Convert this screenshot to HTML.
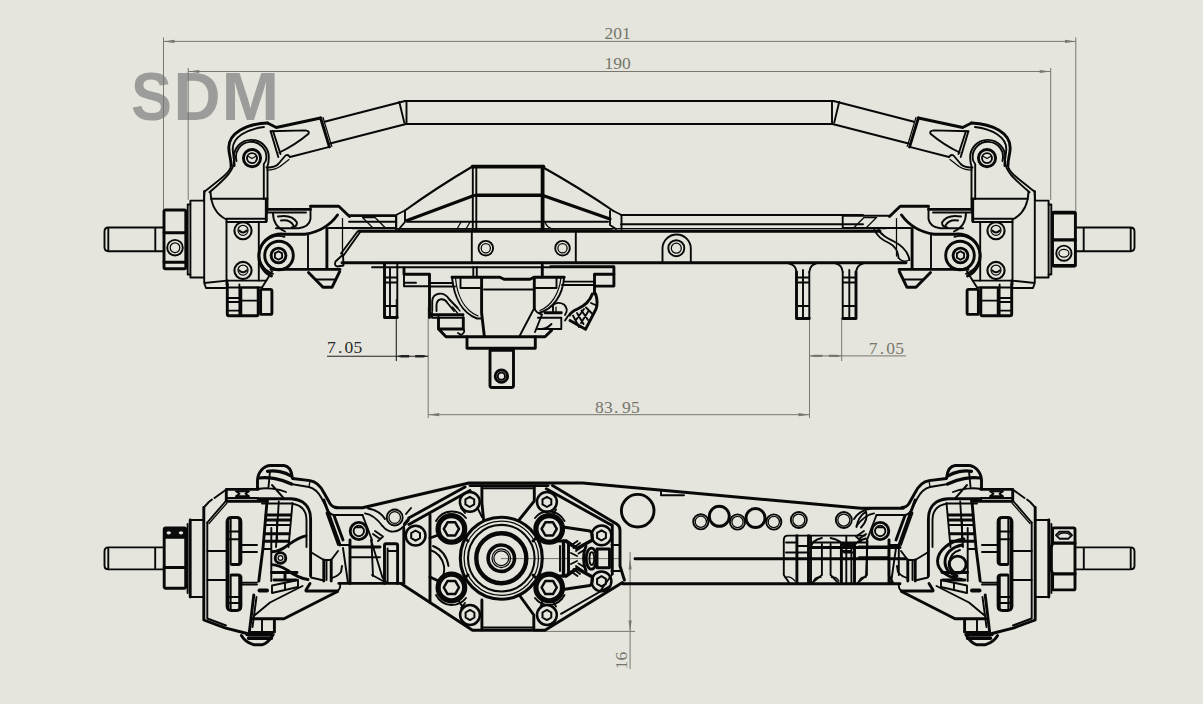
<!DOCTYPE html>
<html lang="en">
<head>
<meta charset="utf-8">
<title>SDM axle drawing</title>
<style>
html,body{margin:0;padding:0;background:#e5e5dd;overflow:hidden}
body{width:1203px;height:704px;position:relative;font-family:"Liberation Sans",sans-serif}
svg{position:absolute;left:0;top:0;display:block}
.k{stroke:#080808;stroke-width:1.9;fill:none;stroke-linejoin:round;stroke-linecap:round}
.k .t,.t{stroke-width:1.25}
.k .h,.h{stroke-width:2.9}
.k .f{fill:#e5e5dd}
.d{stroke:#77776f;stroke-width:1;fill:none}
.da{fill:#77776f;stroke:none}
.dk{stroke:#222;stroke-width:1.1;fill:none}
.dka{fill:#222;stroke:none}
.n{font-family:"Liberation Serif",serif;font-size:17.5px;fill:#75756d}
.nk{font-family:"Liberation Serif",serif;font-size:17.5px;fill:#2a2a2a}
.logo{font-family:"Liberation Sans",sans-serif;font-weight:bold;font-size:66px;fill:#9c9c9a}
</style>
</head>
<body>
<svg width="1203" height="704" viewBox="0 0 1203 704">
<rect x="0" y="0" width="1203" height="704" fill="#e5e5dd"/>
<text class="logo" transform="scale(1,1.033)" y="116.55"><tspan x="130.9" textLength="40.94" lengthAdjust="spacingAndGlyphs">S</tspan><tspan x="173.5" textLength="47.08" lengthAdjust="spacingAndGlyphs">D</tspan><tspan x="221.55" textLength="57.73" lengthAdjust="spacingAndGlyphs">M</tspan></text>
<g class="d">
<path d="M163.5,37.500V209M1075.800,37.500V211M163.5,41.4H1075.800"/>
<path d="M188.2,68V200M1050.7,68V200M188.2,71.5H1050.7"/>
<path d="M428.2,307V418M809.5,318V418M428.2,414.7H809.5"/>
<path d="M841.7,318V361M809.5,355.9H906"/>
<path d="M501,558.6H621M630.1,552V669M534,631.4H635"/>
</g>
<g class="da">
<path d="M163.5,41.4l11,-1.6v3.2zM1076,41.4l-11,-1.6v3.2z"/>
<path d="M188.2,71.5l11,-1.6v3.2zM1050.7,71.5l-11,-1.6v3.2z"/>
<path d="M428.2,414.7l11,-1.6v3.2zM809.5,414.7l-11,-1.6v3.2z"/>
<path d="M809.5,355.9l4.500,-1.200h8.500v2.400h-8.500zM841.7,355.9l-4.500,-1.200h-8.500v2.400h8.500z"/>
<path d="M630.1,558.6l-1.6,11h3.2zM630.1,631.4l-1.6,-11h3.2z"/>
</g>
<g class="dk"><path d="M396.3,299V361M327,356.2H428.2"/></g>
<g class="dka"><path d="M396.3,356.2l5,-1.300h8v2.600h-8zM428.2,356.2l-5,-1.300h-8v2.600h8z"/></g>
<text class="n" x="604.5 613.3 622" y="39">201</text>
<text class="n" x="604.5 613.3 622" y="69">190</text>
<text class="nk" x="327 338 344.5 353.5" y="353.300">7.05</text>
<text class="n" x="868.7 879.7 886.2 895.2" y="353.8">7.05</text>
<text class="n" x="595 604 614 622 631" y="412.5">83.95</text>
<text class="n" transform="translate(626.8,669.3) rotate(-90)" x="0 8.8">16</text>
<g class="k">
<!-- tie rod -->
<path style="stroke-width:2.100" d="M324.5,121.8L405,101H833.5L914,121.8"/>
<path style="stroke-width:2.100" d="M330,143.4L406,124H832.5L908.5,143.4"/>
<path d="M406.500,101V124M399.300,102L404.300,122.600M832,101V124M839.200,102L834.200,122.600"/>
<!-- beam -->
<path class="h" d="M359,231.3H880M342,262.8H906"/>
<path class="t" d="M352,228.6H886"/>
<path d="M349,215.8H395M349,221.8H395M621,215H863M621,224.3H863"/>
<path class="t" d="M396,229H612"/>
<!-- box on beam -->
<path d="M471.8,232V262M575.8,232V262"/>
<circle cx="485.8" cy="248.200" r="7.3"/><circle cx="485.8" cy="248.200" r="4.6" class="t"/>
<circle cx="562.5" cy="248.200" r="7.3"/><circle cx="562.5" cy="248.200" r="4.6" class="t"/>
<!-- bolt tab -->
<path d="M662.5,262V248.500A14.100,14 0 0 1 690.8,248.500V262"/>
<circle cx="676.3" cy="248.200" r="8"/><circle cx="676.3" cy="248.200" r="5" class="t"/>
<!-- diff cover -->
<path style="stroke-width:3.800" d="M472.5,166.700H543.500M542.600,166.500V230"/><path style="stroke-width:3.400" d="M476,195.2H541.5"/><path d="M472.800,166.500V230M476.300,168V230"/>
<path style="stroke-width:2.100" d="M472.5,166.500Q436,188 405,210.500M541.500,166.500Q580,188 613.500,211"/>
<path style="stroke-width:3.100" d="M474,195.500L407,220.500M543,195.500L610,219"/>
<path d="M405,210.5L396,215V229M405,210.5V222L399,229M396,215.5H349M613.5,211L621.5,215V229M610,211V225L616,229"/>
<path d="M407,221.800H608"/><path class="t" d="M461,222L457,229M470,222L466,229M545,222Q547,228 553,229"/>
</g>
<g class="k">
<!-- under-beam second line -->
<path d="M372,267.2H550.7"/><path class="h" d="M550.700,266.800H613.900V286.100H594.500"/>
<!-- left shock tab -->
<path class="h" d="M384.5,264V317.5H397.3"/>
<path d="M397.3,264V317.5M390,268V317M384.5,277.5H397M384.5,282.5H397M384.5,306H397"/>
<!-- servo mount -->
<path class="h" d="M404,268V274.3H429.5V317.5"/>
<path d="M404,274.3V286.2H429M404,282.8H416M429.5,283H452.5M429.5,286.5H455"/>
<!-- stems -->
<path d="M473.3,267V277M476.8,267V277"/><path class="h" d="M542.3,265V277"/>
<!-- housing top -->
<path class="h" d="M452,277.3H500L504,279.3H530L534,277.3H564.2"/>
<!-- left ear -->
<path d="M452,277.3C454,297 462,313 477,318.5H481"/>
<path class="t" d="M455.5,278C457,295 464,310 478,316"/>
<path d="M460.5,278V288H480"/>
<path class="h" d="M481.6,277.5V313L484.3,336"/>
<path d="M484,289.5H533"/>
<!-- right ear -->
<path class="h" d="M534.3,277.5V308"/>
<path d="M564.2,277.3C562.5,296 553,309 539,313"/>
<path class="t" d="M561,278C559,294 551,306 540,310.5"/>
<path d="M556.5,278V288H535"/>
<path d="M534.3,308L519.6,336M534.3,308Q536,313 542,314.5L535,332"/>
<!-- lower left -->
<path class="h" d="M432,314.8H463M438.5,317.7V329H463.3V317.7M438.5,329L446,336.8H545L551.5,330.4"/>
<path d="M438.5,317.7H463.3M432,312.5V317.7H438.5M463.3,329Q466,332 461,335L458,333"/>
<!-- wire loop left -->
<path d="M432.2,311V301.5C432.5,292 444,291 449,299L457.6,308"/>
<path d="M436.5,311V305C437,298 444,297.5 447.5,303L454,311"/>
<path class="t" d="M455,305L460,311M452.5,307L457.5,313"/>
<!-- lower right -->
<path class="h" d="M545,312.7H561.3"/>
<path d="M537.9,317.7H561.3V329H537.9M537.9,329Q546,330 551.5,324"/>
<!-- right wire loop -->
<path d="M553,312.5V305Q558,301 564,304.5Q569,309 565,315"/>
<path class="t" d="M556,312.5V307"/>
<!-- bottom plate -->
<path class="h" d="M467,337V348.3H535.3V337"/>
<!-- stem -->
<path class="h" d="M490,350.3H513.5M490,350.3V385.5Q490,387.5 492,387.5H511.500Q513.5,387.5 513.5,385.5V350.3"/>
<path d="M493,350.3V349M510.5,350.3V349"/>
<circle cx="501.4" cy="376.2" r="6.2" class="h"/><circle cx="501.4" cy="376.2" r="3.6"/>
<!-- right shock tabs -->
<path class="h" d="M796.5,272V318.5H809.3M856,272V318.5H843"/>
<path d="M809.3,272V318.5M803,270V318M842.7,272V318.5M849.3,270V318"/>
<path d="M796.5,272Q796,265 789,263.5M809.3,272Q810,265 816,263.5M842.7,272Q842,265 836,263.5M856,272Q857,265 863,263.5"/>
<path d="M796.5,277.5H809M796.5,282.5H809M796.5,306H809M843,277.5H856M843,282.5H856M843,306H856"/>
</g>
<g class="k">
<!-- left steering link -->
<path d="M360.500,231.500L343.500,255.500M357.500,231.500L341,253.500"/>
<path d="M343,254.500L335.500,261.500Q334,266 337.500,266.500L343.500,265.500Z"/>
<!-- right steering link (wavy) -->
<path d="M874.500,230C877,236 882,240 889,243C896,246.500 898,251 898.500,258"/>
<path d="M878.500,229.500C881,235 887,238 894,241.500C903,246 908,252 909.500,260"/>
<path class="t" d="M898.500,258Q903,263 909.500,260"/>
</g>
<g class="k">
<!-- right bracket + connector -->
<path class="h" d="M613.900,274.200H594.500V294"/>
<path d="M564.200,281.600H594.500M562,285H594.500"/>
<path class="h" d="M595.700,294C597.500,300 597.500,305 596,309L585.500,329.300L570,320.500"/>
<path class="h" d="M592.300,294C590,301 584,306 577.500,309C573,311 570.500,313 569.500,315"/>
<path d="M591,303L596.500,305.500M586,307.500L592.500,314M581.500,310.500L588,320M577,313L583.500,324M573,315.500L579,327M588.500,311L581,323M584,309L576,320"/>
<path d="M568,316L565,320.500"/>
</g>
<g class="k">
<!-- hex nut -->
<path class="h" d="M164,211.500Q164,210 165.500,210H184.300Q185.8,210 185.8,211.500V267.300Q185.8,268.8 184.300,268.800H165.500Q164,268.8 164,267.300Z"/>
<path class="h" d="M164,232.8H185.800M164,262.3H185.800"/>
<circle cx="175" cy="247.7" r="7.8"/><circle cx="175" cy="247.700" r="4.8" class="t"/>
<!-- right hex nut (top view) -->
<path class="h" d="M1052.500,213.800Q1052.500,212.300 1054,212.300H1073.900Q1075.400,212.300 1075.400,213.800V264.500Q1075.400,266 1073.900,266H1054Q1052.500,266 1052.500,264.500Z"/>
<path style="stroke-width:3.200" d="M1052.500,239.800H1075.400M1053,212.800H1075M1053,265.600H1075"/>
<circle cx="1063.900" cy="253.200" r="7.600"/><ellipse cx="1063.900" cy="253.200" rx="5" ry="3.800" class="t"/>
</g>
<g><g class="k">
<!-- stub axle -->
<path d="M163.8,227.5H108.500Q104.5,227.5 104.5,231.500V247.300Q104.5,251.2 108.500,251.200H163.800M155.3,227.5V251.2M108.300,229V249.700"/>
<!-- flange -->
<path d="M187.7,204.5V274.5M187.700,204.500H190.400M187.700,274.500H190.400"/>
<path d="M190.4,200.6H204.2V277.5H190.400Z"/>
<!-- knuckle body -->
<path d="M204.2,200.600V191.300M204.200,277.500V283L206,288H227.300M204.2,283L227,280.600H266.300"/>
<path class="h" d="M227,284.400V280.600"/>
<path d="M226.5,220V280.600M258.800,222V280.600"/>
<path d="M226.5,218.800H265M226.5,222H266.300"/>
<path d="M210.5,191.500C211,206 217,215 226.500,219.500"/>
<path d="M211,198.800H267.500"/>
<circle cx="243" cy="230.700" r="8.600" style="stroke-width:2.100"/><circle cx="243" cy="230.300" r="5" class="t"/><path d="M239.300,230.500Q243,234.500 246.700,230.500"/>
<circle cx="243" cy="270.500" r="8.600" style="stroke-width:2.100"/><circle cx="243" cy="270.100" r="5" class="t"/><path d="M239.300,270.300Q243,274.300 246.700,270.300"/>
<!-- arm verticals -->
<!-- arm outer profile going down-left -->
<path d="M231,165.500C230.500,172 222,178 204.500,191.500"/>
<path d="M204.500,191.500L203.800,200.600"/>
<!-- rod end -->
<path class="h" d="M267.500,123C246,124 228.500,133 228.800,148C229,156 231.500,160 231,165.500"/>
<path d="M264,127C247,129 232.500,137 232.700,149C233,157 235,161 234.500,166"/>
<path d="M267.500,213V166Q268.700,163 268.600,160A17.500,17.500 0 1 0 234,160C234.500,170 226,178 209.500,192.300"/>
<path d="M263.800,199V164Q266.300,161 266.300,158.500A15.200,15.200 0 1 0 236.500,161"/>
<circle cx="252" cy="158.100" r="8.600" class="h"/><circle cx="252" cy="158.100" r="5"/>
<path class="t" d="M248.500,156.500L252,158.500L255.500,156.500"/>
<path class="h" d="M267.500,123L276.300,127.500L320.600,118"/>
<path class="h" d="M320.600,118L329.400,146.900"/><path class="t" d="M323,117.500L331.800,146.400"/>
<path d="M329.400,146.900L290,157"/>
<path d="M270.600,131.300L278.300,157M273,131L280.500,154"/>
<path d="M270.600,131.300L305,130.400Q310,131 308.500,133.800C300,141 290,147.500 279.400,152.500"/>
<path d="M290,157Q288,154 285.500,155.500L278.300,164Q274,168 266.500,167.500"/>
<path class="t" d="M289,159.500L280,166.500Q275,170 267,170"/>
<!-- C-hub / pivot -->
<path class="h" d="M266.300,199V221"/>
<path class="h" d="M268.800,209.400H310.500M310.500,206.300H338.800L349.500,216.500"/>
<path d="M269,212.500H306M310.500,206.300V219Q309,227 298.800,228.200H276"/>
<path d="M273,213Q273,226 285,231.500"/>
<path d="M278,216.500Q292,214 297,222.500M281,220.500Q290,219 293.500,225.500M297,222.500Q297,227 292,227.300"/>
<path class="h" d="M285,234.200H305Q326,231 337.500,215"/>
<path class="h" d="M326.900,228.500V268.500M271,269.400H340"/>
<path d="M308,235V268.500"/>
<path class="t" d="M342.500,218.500V256"/>
<!-- pivot circles -->
<path class="h" d="M284,234.300A22,22 0 0 0 271.500,276"/>
<path d="M284.500,236.800A19.300,19.300 0 0 0 273,273.800"/>
<circle cx="279" cy="255.500" r="14.300" class="h"/>
<circle cx="278.500" cy="255.500" r="7.400" class="h"/>
<path d="M278.500,251.300l3.600,2.100v4.200l-3.600,2.100l-3.600,-2.100v-4.200z"/>
<!-- lower chamfer from hub to nuts -->
<path d="M272,271.500L262,287.500H227.300"/>
<!-- triangle -->
<path class="h" d="M308.500,272.500L323,287.300H332L339.700,271.500"/>
<path d="M316,279.500H335.800"/>
<!-- nuts below -->
<path class="h" d="M227.300,284.400V314Q227.300,315.800 229,315.800H256.500Q258.200,315.800 258.200,314V288"/>
<path d="M227.300,298H239.400M227.300,302H239.400M227.300,310.600H239.400M239.400,284.400V315.600M241.300,287.500V315.600M241.300,300.600H258M241.300,287.500H258"/>
<path class="h" d="M262,289.400H270.400Q271.900,289.400 271.900,291V312.900Q271.900,314.400 270.400,314.400H262Q260.600,314.400 260.600,312.900V291Q260.600,289.400 262,289.400Z"/>
<!-- beam-side detail -->
<path d="M349.500,215.700H396.300V228M328.800,228H396"/>
<path d="M362.500,217.500H375L385,227.500H372.500Z" class="t"/>
</g>
</g>
<g transform="translate(1239,0) scale(-1,1)"><g class="k">
<!-- stub axle -->
<path d="M163.8,227.5H108.500Q104.5,227.5 104.5,231.500V247.300Q104.5,251.2 108.500,251.200H163.800M155.3,227.5V251.2M108.300,229V249.700"/>
<!-- flange -->
<path d="M187.7,204.5V274.5M187.700,204.500H190.400M187.700,274.500H190.400"/>
<path d="M190.4,200.6H204.2V277.5H190.400Z"/>
<!-- knuckle body -->
<path d="M204.2,200.600V191.300M204.200,277.500V283L206,288H227.300M204.2,283L227,280.600H266.300"/>
<path class="h" d="M227,284.400V280.600"/>
<path d="M226.5,220V280.600M258.800,222V280.600"/>
<path d="M226.5,218.800H265M226.5,222H266.300"/>
<path d="M210.5,191.500C211,206 217,215 226.500,219.500"/>
<path d="M211,198.800H267.500"/>
<circle cx="243" cy="230.700" r="8.600" style="stroke-width:2.100"/><circle cx="243" cy="230.300" r="5" class="t"/><path d="M239.300,230.500Q243,234.500 246.700,230.500"/>
<circle cx="243" cy="270.500" r="8.600" style="stroke-width:2.100"/><circle cx="243" cy="270.100" r="5" class="t"/><path d="M239.300,270.300Q243,274.300 246.700,270.300"/>
<!-- arm verticals -->
<!-- arm outer profile going down-left -->
<path d="M231,165.500C230.500,172 222,178 204.500,191.500"/>
<path d="M204.500,191.500L203.800,200.600"/>
<!-- rod end -->
<path class="h" d="M267.500,123C246,124 228.500,133 228.800,148C229,156 231.500,160 231,165.500"/>
<path d="M264,127C247,129 232.500,137 232.700,149C233,157 235,161 234.500,166"/>
<path d="M267.500,213V166Q268.700,163 268.600,160A17.500,17.500 0 1 0 234,160C234.500,170 226,178 209.500,192.300"/>
<path d="M263.800,199V164Q266.300,161 266.300,158.500A15.200,15.200 0 1 0 236.500,161"/>
<circle cx="252" cy="158.100" r="8.600" class="h"/><circle cx="252" cy="158.100" r="5"/>
<path class="t" d="M248.500,156.500L252,158.500L255.500,156.500"/>
<path class="h" d="M267.500,123L276.300,127.500L320.600,118"/>
<path class="h" d="M320.600,118L329.400,146.900"/><path class="t" d="M323,117.500L331.800,146.400"/>
<path d="M329.400,146.900L290,157"/>
<path d="M270.600,131.300L278.300,157M273,131L280.500,154"/>
<path d="M270.600,131.300L305,130.400Q310,131 308.500,133.800C300,141 290,147.500 279.400,152.500"/>
<path d="M290,157Q288,154 285.500,155.500L278.300,164Q274,168 266.500,167.500"/>
<path class="t" d="M289,159.500L280,166.500Q275,170 267,170"/>
<!-- C-hub / pivot -->
<path class="h" d="M266.300,199V221"/>
<path class="h" d="M268.800,209.400H310.500M310.500,206.300H338.800L349.500,216.500"/>
<path d="M269,212.500H306M310.500,206.300V219Q309,227 298.800,228.200H276"/>
<path d="M273,213Q273,226 285,231.500"/>
<path d="M278,216.500Q292,214 297,222.500M281,220.500Q290,219 293.500,225.500M297,222.500Q297,227 292,227.300"/>
<path class="h" d="M285,234.200H305Q326,231 337.500,215"/>
<path class="h" d="M326.900,228.500V268.500M271,269.400H340"/>
<path d="M308,235V268.500"/>
<path class="t" d="M342.500,218.500V256"/>
<!-- pivot circles -->
<path class="h" d="M284,234.300A22,22 0 0 0 271.500,276"/>
<path d="M284.500,236.800A19.300,19.300 0 0 0 273,273.800"/>
<circle cx="279" cy="255.500" r="14.300" class="h"/>
<circle cx="278.500" cy="255.500" r="7.400" class="h"/>
<path d="M278.500,251.300l3.600,2.100v4.200l-3.600,2.100l-3.600,-2.100v-4.200z"/>
<!-- lower chamfer from hub to nuts -->
<path d="M272,271.500L262,287.500H227.300"/>
<!-- triangle -->
<path class="h" d="M308.500,272.500L323,287.300H332L339.700,271.500"/>
<path d="M316,279.500H335.800"/>
<!-- nuts below -->
<path class="h" d="M227.300,284.400V314Q227.300,315.800 229,315.800H256.500Q258.200,315.800 258.200,314V288"/>
<path d="M227.300,298H239.400M227.300,302H239.400M227.300,310.600H239.400M239.400,284.400V315.600M241.300,287.500V315.600M241.300,300.600H258M241.300,287.500H258"/>
<path class="h" d="M262,289.400H270.400Q271.900,289.400 271.900,291V312.900Q271.900,314.400 270.400,314.400H262Q260.600,314.400 260.600,312.900V291Q260.600,289.400 262,289.400Z"/>
<!-- beam-side detail -->
<path d="M349.500,215.700H396.300V228M328.800,228H396"/>
<path d="M362.500,217.500H375L385,227.500H372.500Z" class="t"/>
</g>
</g>
<g class="k">
<!-- upper edge of beam -->
<path style="stroke-width:3.1" d="M336,507.8H362.5L469,483H582.600L861,508.300H903"/>
<path d="M661,491V495.300H684"/>
<!-- housing octagon -->
<path class="h" d="M470,485.600H548"/>
<path class="h" d="M408.800,518L465,487M408.800,524.400L470,490.500"/>
<path d="M408.800,518L404,523.500V528.800"/>
<path class="h" d="M552.500,485.600L616.300,523.800Q620,526 620,530V566L624.400,580M546.300,488.800L611.300,525"/>
<path class="h" d="M612.300,525V574M622.500,582.500L545,630.300H472.500L401.300,583.800"/>
<path d="M610,586L561,613.800M612.300,574L601,590"/>
<path class="h" d="M430,515V602.500M403.800,528.800V583.800"/>
<!-- top rect -->
<path d="M483.800,488.200H532.500"/>
<path class="h" d="M481.900,486V502.500L483.500,519M534.300,486V501L519,520"/>
<!-- bottom rect -->
<path class="h" d="M481.900,600V630M533.800,615V630M520,596L533.800,615"/><path d="M482,627.500H533.800"/>
<!-- pinion circles -->
<circle cx="501.300" cy="558.200" r="41" style="stroke-width:3.1"/>
<circle cx="501.300" cy="558.200" r="37.200" class="t"/>
<circle cx="501.300" cy="558.200" r="33.300" style="stroke-width:2.1"/>
<circle cx="501.300" cy="558.200" r="25" style="stroke-width:4.4"/>
<circle cx="501.300" cy="558.200" r="13.200" style="stroke-width:3.6"/>
<circle cx="501.300" cy="558.200" r="9.300" class="t"/>
<circle cx="501.300" cy="558.200" r="7.400" class="t"/>
</g>
<g class="k">
<g style="stroke-width:5.2"><circle cx="451.4" cy="528.9" r="13.300"/><circle cx="549.2" cy="528.9" r="13.300"/><circle cx="451.4" cy="587.5" r="13.300"/><circle cx="549.2" cy="587.5" r="13.300"/></g>
<g style="stroke-width:2.5"><path d="M459.0,528.9L455.2,535.5L447.6,535.5L443.8,528.9L447.6,522.3L455.2,522.3Z"/><path d="M556.8,528.9L553.0,535.5L545.4,535.5L541.6,528.9L545.4,522.3L553.0,522.3Z"/><path d="M459.0,587.5L455.2,594.1L447.6,594.1L443.8,587.5L447.6,580.9L455.2,580.9Z"/><path d="M556.8,587.5L553.0,594.1L545.4,594.1L541.6,587.5L545.4,580.9L553.0,580.9Z"/></g>
<g style="stroke-width:2.5"><circle cx="469.8" cy="501.9" r="9.900"/><circle cx="546.9" cy="501.9" r="9.900"/><circle cx="470.0" cy="615.0" r="9.900"/><circle cx="546.9" cy="615.0" r="9.900"/><circle cx="415.6" cy="535.6" r="9.900"/><circle cx="601.5" cy="535.4" r="9.900"/><circle cx="601.5" cy="581.3" r="9.900"/></g>
<g style="stroke-width:2"><path d="M474.2,504.4L469.8,507.0L465.4,504.4L465.4,499.3L469.8,496.8L474.2,499.3Z"/><path d="M551.3,504.4L546.9,507.0L542.5,504.4L542.5,499.3L546.9,496.8L551.3,499.3Z"/><path d="M474.4,617.5L470.0,620.1L465.6,617.5L465.6,612.5L470.0,609.9L474.4,612.5Z"/><path d="M551.3,617.5L546.9,620.1L542.5,617.5L542.5,612.5L546.9,609.9L551.3,612.5Z"/><path d="M420.0,538.1L415.6,540.7L411.2,538.1L411.2,533.1L415.6,530.5L420.0,533.1Z"/><path d="M605.9,537.9L601.5,540.5L597.1,537.9L597.1,532.9L601.5,530.3L605.9,532.9Z"/><path d="M605.9,583.8L601.5,586.4L597.1,583.8L597.1,578.8L601.5,576.2L605.9,578.8Z"/></g>
</g>
<g class="k">
<!-- holes on beam -->
<circle cx="637.700" cy="510.700" r="16.300" class="h"/>
<circle cx="700.800" cy="521.800" r="7.600"/><circle cx="700.800" cy="521.800" r="5.600" class="t"/>
<circle cx="719.300" cy="516.300" r="10" class="h"/>
<circle cx="737.500" cy="522" r="7.600"/><circle cx="737.500" cy="522" r="5.600" class="t"/>
<circle cx="755.500" cy="518" r="9.500" class="h"/>
<circle cx="773.800" cy="522" r="7.600"/><circle cx="773.800" cy="522" r="5.600" class="t"/>
<circle cx="798.800" cy="520" r="8"/><circle cx="798.800" cy="520" r="6" class="t"/>
<circle cx="843.800" cy="520" r="8"/><circle cx="843.800" cy="520" r="6" class="t"/>
<circle cx="394.700" cy="517.500" r="8"/><circle cx="394.700" cy="517.500" r="5.800" class="t"/>
<!-- axle tube -->
<path class="h" d="M635,558.700H906M622.500,583.700H900M338.800,583.400H401.300"/>
</g>
<g class="k">
<!-- right shock mount group (bottom view) -->
<path d="M783.800,575V540Q783.800,535.600 788,535.600H865M783.800,575L789,582.500M866.900,540V575L858,582.500"/>
<path class="h" d="M796.900,535.600V583.500M808.500,535.600V583.500"/>
<path d="M811,536V583M821.900,544V575L812.500,582.500M830.600,544V575L838,582.500M846.300,536V583"/>
<path d="M786,542.500H797M786,552.500H797M797,546H808M797,552.500H808M844,552.500H853M844,546H853"/>
<path class="h" d="M811,547.500H900"/>
<path d="M811,542.500H867M811,547.500Q812,540 821.900,538M843,547.500Q842,540 830.600,538M854,547.500Q855,541 866,538.500"/>
<path class="t" d="M785,577.500Q790,575 795,581M821,577.500Q816,576 813.500,581M831.500,577.500Q836,576 839,581M866,577.500Q861,576 859,581"/>
<path d="M888.800,548V575L893,582.500M898.800,548V575"/>
</g>
<g class="k">
<!-- hex nut -->
<path class="h" d="M164.200,529.500Q164.200,528 165.700,528H184.200Q185.700,528 185.700,529.500V586.500Q185.700,588.200 184.200,588.200H165.700Q164.200,588.200 164.200,586.500Z"/>
<path d="M165,528.500H185V537.500H165Z" style="fill:#0c0c0c"/>
<ellipse cx="168.800" cy="532.800" rx="2.200" ry="1.600" style="fill:#e5e5dd;stroke:none"/><ellipse cx="181" cy="532.800" rx="2.200" ry="1.600" style="fill:#e5e5dd;stroke:none"/>
<path class="h" d="M164.200,567.500H185.700"/><path d="M164.200,537.500H185.700"/>
<!-- yoke -->
<path class="h" d="M272,551.800C277,551.500 281,550 284.500,547.500C292,542.500 297,537.500 306,535.800"/>
<path class="h" d="M272,564.600C278,565 283,567.500 287,570C294,575 300,578.500 308,579.500"/>
<path d="M271.300,528V581M263,549H271.300"/>
<circle cx="280.500" cy="557.900" r="5.300" class="h"/><circle cx="280.500" cy="557.900" r="2.400" class="t"/>
<path d="M371,540L382.500,577.500L387,583M372,575L383,581"/>
</g>
<g class="k">
<!-- right hex nut (bottom view) -->
<path class="h" d="M1052.600,529.400Q1052.600,527.900 1054.100,527.900H1073.500Q1075,527.900 1075,529.400V588.400Q1075,589.900 1073.500,589.900H1054.100Q1052.600,589.900 1052.600,588.400V574L1051.300,570V547L1052.600,543.200Z"/>
<path style="stroke-width:3.200" d="M1052.600,543.200H1075M1052.600,573.900H1075"/>
<path d="M1056,535.200L1059.500,531.700H1068.500L1072,535.200L1068.500,538.700H1059.500Z"/>
<path class="t" d="M1058.500,535.200Q1060,533 1063,533H1066Q1069,533 1070,535.200"/>
<!-- right yoke -->
<circle cx="957.600" cy="564.600" r="8.500" class="h"/>
<path class="h" d="M964,539C950,541 938,550 937.500,561C937.500,571 948,578 961.800,579.500"/>
<path class="h" d="M962,545C952,547 945,553 945,562C945,569 950,574 957,576"/>
<path d="M960,550C953,552 949.500,557 949.500,563Q950,568 953,571"/>
<path d="M967.700,528V581M967.700,549H976"/>
</g>
<g class="k">
<!-- gear / side cover between bolts (bottom view) -->
<path class="h" d="M597,549H609.500V567.700H597Z"/>
<ellipse cx="591.400" cy="558.600" rx="5.200" ry="10.500" class="h"/>
<ellipse cx="591.800" cy="558.600" rx="2.400" ry="6.500"/>
<path class="h" d="M586,546Q581,558 586,571"/>
<path style="stroke-width:3.400" d="M592.500,540L577,548.500L566,541M592.500,577L577,568.500L566,576M563.500,541V576"/>
<path class="h" d="M568.500,543V574M566,541H556M566,576H556"/>
<path d="M571,545.500L577.500,541M573.500,548L580,543M576,551L583,546M578.500,553.500L585,549.500M571,571.500L577.500,576M573.500,569L580,574M576,566L583,571M578.500,563.500L585,567.500"/>
<path d="M571,553L577,556M571,564L577,561M560,546V571"/>
</g>
<g class="k">
<path d="M436,521Q441,512 451,511.500Q461,511 466,518M564.500,521Q559.500,512 549.500,511.500Q540,511 535,518"/>
<path d="M436,595Q441,604.500 451,605Q461,605 466,598M564.500,595Q559.500,604.500 549.500,605Q540,605 535,598"/>
<path class="h" d="M430,538L438.500,535M430,577L438.500,581M463,536.500L468,541M463,579.500L468,575M537.500,536.500L533,541M537.500,579.500L533,575"/>
<path d="M461,508L465,513M478,509L482,517M556,509.500L553,514.500M461,608L465,603M556,606.500L553,601.500M457.500,599L463,607.500M543,599L540.500,607"/>
<path d="M430,550Q441,553 444,566Q445,574 441,580M433,546Q446,551 448.500,566"/>
<path d="M611.500,545H620M611.500,571H621.500"/>
<path class="h" d="M563,527L590,531M563,589.500L590,585.500M590,531Q593,533 592.500,540M590,585.500Q593,583.500 592.500,577"/>
</g>
<g class="k">
<path d="M382.500,526C386,531 392,533 398,530.500C403,528.500 406,524 409,519.700M406,514L411,508"/>
<path d="M856.500,527Q858,517 866,511.500Q868.500,520 861,527.500"/>
</g>
<g><g class="k">
<!-- stub axle -->
<path d="M164,547.400H108.500Q104.500,547.400 104.500,551.400V565.500Q104.500,569.400 108.500,569.400H164M155.200,547.400V569.400M108.300,549V567.800"/>
<!-- flange -->
<path d="M187.600,524V593M190.200,520H203.800M190.200,597H203.800"/><path class="h" d="M190.200,520V597"/>
<!-- knuckle body left -->
<path class="h" d="M203.800,507.500V620L225,627.800L247,633.500"/>
<path d="M207.300,522.500V618.500L226,625.500"/>
<path d="M203.800,507.500L208.800,502L212,499.500M214.500,498L226.300,489.400M207.300,522.500L226.300,500.500"/>
<path class="t" d="M209,523.500L227,503"/>
<path d="M207.300,551H226.500M207.300,580H226.500"/>
<!-- top box -->
<path class="h" d="M226.300,489.400H258V488.500M226.300,489.400V501.300H267.500"/>
<path d="M226.300,498H258M236,491.300H249L245.500,493.800L249,496.300H236L239.500,493.800Z"/>
<!-- hex disk -->
<path class="h" d="M231.500,564.500H238Q240.500,564.500 240.900,562V522Q240.900,517.500 236.500,517.500H231.500Q227.300,517.500 227.300,522V606Q227.300,610.500 231.500,610.500H236.500Q240.900,610.500 240.900,606V577Q240.500,575 238,575H231.500"/>
<path style="stroke-width:3.800" d="M227.600,521V607"/>
<path d="M230.700,518V564M239.200,518V564M230.700,575V610M239.200,575V610M227,531.500H240.900M227,539.200H240.900M227,597H240.900M227,603H240.900"/>
<!-- shaft -->
<path d="M241,545H257M241,552H257M241,582.600H257M241,584.600H257"/>
<!-- ball top -->
<path class="h" d="M257.500,489V480C258,472 264,465.500 270.500,465.500H284C288.500,466 291.500,470 292.300,477.500"/>
<path style="stroke-width:3.200" d="M267.500,471.300C275,470 285,472 291,476M258.800,478C268,476.500 282,479 291.500,484"/>
<path d="M258,489C266,487.500 278,488.500 286,492M270,471L268.500,487M272,485L284,498.500"/>
<!-- upper arm -->
<path class="h" d="M292.500,478.500L310,480.600C316,481.500 320,485 323.800,492.500L330,503.500Q332.500,507.500 337,507.500"/>
<path d="M291,484L309,487C315,488.500 318.500,492.500 321.500,498L328,510.500Q330,514.500 334,515H362.500"/>
<path class="t" d="M310,480.600L309,487"/>
<path class="h" d="M323.800,500L340,545"/>
<path d="M326.500,513L338,545"/>
<!-- C hub inner loop -->
<path class="h" d="M258,498.800H291C303,499.500 310.600,506 310.600,519V576"/>
<path d="M262,503.500H291C300,504.500 306.500,509 306.500,520V547"/>
<!-- steering stack -->
<path class="h" d="M267,501.500L263,548L258.800,581"/>
<path d="M278.800,501.500L276,547M292.500,503L288.500,547"/>
<path class="h" d="M266,515H290.500M265.500,520H290M264.500,533.800H289M264,541.300H288.500"/>
<path d="M265.800,525H290M277,520V541"/>
<path class="h" d="M271.500,572.500H297M274,580H296M285,572.500V580"/>
<path d="M272,585.500L298,580V587L272,593Z"/><path d="M285,583V590"/>
<path style="stroke-width:4" d="M259.500,590.500H267"/>
<!-- lower arm -->
<path class="h" d="M253.800,595L249.200,633.400M337.500,591H306"/>
<path d="M255,615L270,602.500L302.500,586M256.500,597L252.500,627"/>
<path class="h" d="M306,590L310,583.500"/>
<path d="M337.500,591Q341,588 340,584"/>
<!-- pin + funnel -->
<path class="h" d="M323.800,560V581M331.200,560V581"/>
<path d="M310.600,552L323.800,560H331.200L338,551M326.500,561V580"/>
<path d="M311,577.500L323.800,580.500M331.200,578Q337,577 341,572L342,566"/>
<!-- hub to tube -->
<path class="h" d="M350,540V583.500"/>
<path d="M340,545H350M350,547H380M350,557.200H380M343,548L348,583M371.500,541L373,576"/><path class="h" d="M350,547H380"/>
<!-- tab -->
<path class="h" d="M384.500,583.500V545.500Q384.500,543.800 386,543.800H396Q397.600,543.800 397.600,545.500V583.500"/>
<path d="M387.600,548.500V583M387.600,551H397"/>
<!-- bolt + webs -->
<circle cx="358.800" cy="531" r="8.600" class="h"/><circle cx="358.800" cy="531" r="5.200"/>
<path class="t" d="M354.500,527.500H362"/>
<path d="M365,513.400C373,514.500 378,520 382.500,526"/>
<path d="M368,508.500C377,510 382,514 385,519"/>
<path class="h" d="M334,515.500L343,540"/><path d="M362.500,515L372,540"/>
<path d="M375,531L383,536.500L378,541M373,534L380,539"/>
<!-- bottom nut -->
<path class="h" d="M251.500,618.800H284L337.500,591.500M274.400,619V632"/>
<path d="M262,619V632M251,632H274.400"/>
<path style="stroke-width:3.400" d="M247,634.600H273M248.500,638.300H271.500"/>
<path class="h" d="M241.400,635.500Q245,642 253.400,644.700H262.500Q268,643 272.600,635.500"/>
</g>
</g>
<g transform="translate(1239,0) scale(-1,1)"><g class="k">
<!-- stub axle -->
<path d="M164,547.400H108.500Q104.500,547.400 104.500,551.400V565.500Q104.500,569.400 108.500,569.400H164M155.200,547.400V569.400M108.300,549V567.800"/>
<!-- flange -->
<path d="M187.600,524V593M190.200,520H203.800M190.200,597H203.800"/><path class="h" d="M190.200,520V597"/>
<!-- knuckle body left -->
<path class="h" d="M203.800,507.500V620L225,627.800L247,633.500"/>
<path d="M207.300,522.500V618.500L226,625.500"/>
<path d="M203.800,507.500L208.800,502L212,499.500M214.500,498L226.300,489.400M207.300,522.500L226.300,500.500"/>
<path class="t" d="M209,523.500L227,503"/>
<path d="M207.300,551H226.500M207.300,580H226.500"/>
<!-- top box -->
<path class="h" d="M226.300,489.400H258V488.500M226.300,489.400V501.300H267.500"/>
<path d="M226.300,498H258M236,491.300H249L245.500,493.800L249,496.300H236L239.500,493.800Z"/>
<!-- hex disk -->
<path class="h" d="M231.500,564.500H238Q240.500,564.500 240.900,562V522Q240.900,517.500 236.500,517.500H231.500Q227.300,517.500 227.300,522V606Q227.300,610.500 231.500,610.500H236.500Q240.900,610.500 240.900,606V577Q240.500,575 238,575H231.500"/>
<path style="stroke-width:3.800" d="M227.600,521V607"/>
<path d="M230.700,518V564M239.200,518V564M230.700,575V610M239.200,575V610M227,531.500H240.900M227,539.200H240.900M227,597H240.900M227,603H240.900"/>
<!-- shaft -->
<path d="M241,545H257M241,552H257M241,582.600H257M241,584.600H257"/>
<!-- ball top -->
<path class="h" d="M257.500,489V480C258,472 264,465.500 270.500,465.500H284C288.500,466 291.500,470 292.300,477.500"/>
<path style="stroke-width:3.200" d="M267.500,471.300C275,470 285,472 291,476M258.800,478C268,476.500 282,479 291.500,484"/>
<path d="M258,489C266,487.500 278,488.500 286,492M270,471L268.500,487M272,485L284,498.500"/>
<!-- upper arm -->
<path class="h" d="M292.500,478.500L310,480.600C316,481.500 320,485 323.800,492.500L330,503.500Q332.500,507.500 337,507.500"/>
<path d="M291,484L309,487C315,488.500 318.500,492.500 321.500,498L328,510.500Q330,514.500 334,515H362.500"/>
<path class="t" d="M310,480.600L309,487"/>
<path class="h" d="M323.800,500L340,545"/>
<path d="M326.500,513L338,545"/>
<!-- C hub inner loop -->
<path class="h" d="M258,498.800H291C303,499.500 310.600,506 310.600,519V576"/>
<path d="M262,503.500H291C300,504.500 306.500,509 306.500,520V547"/>
<!-- steering stack -->
<path class="h" d="M267,501.500L263,548L258.800,581"/>
<path d="M278.800,501.500L276,547M292.500,503L288.500,547"/>
<path class="h" d="M266,515H290.500M265.500,520H290M264.500,533.800H289M264,541.300H288.500"/>
<path d="M265.800,525H290M277,520V541"/>
<path class="h" d="M271.500,572.500H297M274,580H296M285,572.500V580"/>
<path d="M272,585.500L298,580V587L272,593Z"/><path d="M285,583V590"/>
<path style="stroke-width:4" d="M259.500,590.500H267"/>
<!-- lower arm -->
<path class="h" d="M253.800,595L249.200,633.400M337.500,591H306"/>
<path d="M255,615L270,602.500L302.500,586M256.500,597L252.500,627"/>
<path class="h" d="M306,590L310,583.500"/>
<path d="M337.500,591Q341,588 340,584"/>
<!-- pin + funnel -->
<path class="h" d="M323.800,560V581M331.200,560V581"/>
<path d="M310.600,552L323.800,560H331.200L338,551M326.500,561V580"/>
<path d="M311,577.500L323.800,580.500M331.200,578Q337,577 341,572L342,566"/>
<!-- hub to tube -->
<path class="h" d="M350,540V583.500"/>
<path d="M340,545H350M350,547H380M350,557.200H380M343,548L348,583M371.500,541L373,576"/><path class="h" d="M350,547H380"/>
<!-- tab -->
<path class="h" d="M384.500,583.500V545.500Q384.500,543.800 386,543.800H396Q397.600,543.800 397.600,545.500V583.500"/>
<path d="M387.600,548.500V583M387.600,551H397"/>
<!-- bolt + webs -->
<circle cx="358.800" cy="531" r="8.600" class="h"/><circle cx="358.800" cy="531" r="5.200"/>
<path class="t" d="M354.500,527.500H362"/>
<path d="M365,513.400C373,514.500 378,520 382.500,526"/>
<path d="M368,508.500C377,510 382,514 385,519"/>
<path class="h" d="M334,515.500L343,540"/><path d="M362.500,515L372,540"/>
<path d="M375,531L383,536.500L378,541M373,534L380,539"/>
<!-- bottom nut -->
<path class="h" d="M251.500,618.800H284L337.500,591.500M274.400,619V632"/>
<path d="M262,619V632M251,632H274.400"/>
<path style="stroke-width:3.400" d="M247,634.600H273M248.500,638.300H271.500"/>
<path class="h" d="M241.400,635.500Q245,642 253.400,644.700H262.500Q268,643 272.600,635.500"/>
</g>
</g>
</svg>
</body>
</html>
